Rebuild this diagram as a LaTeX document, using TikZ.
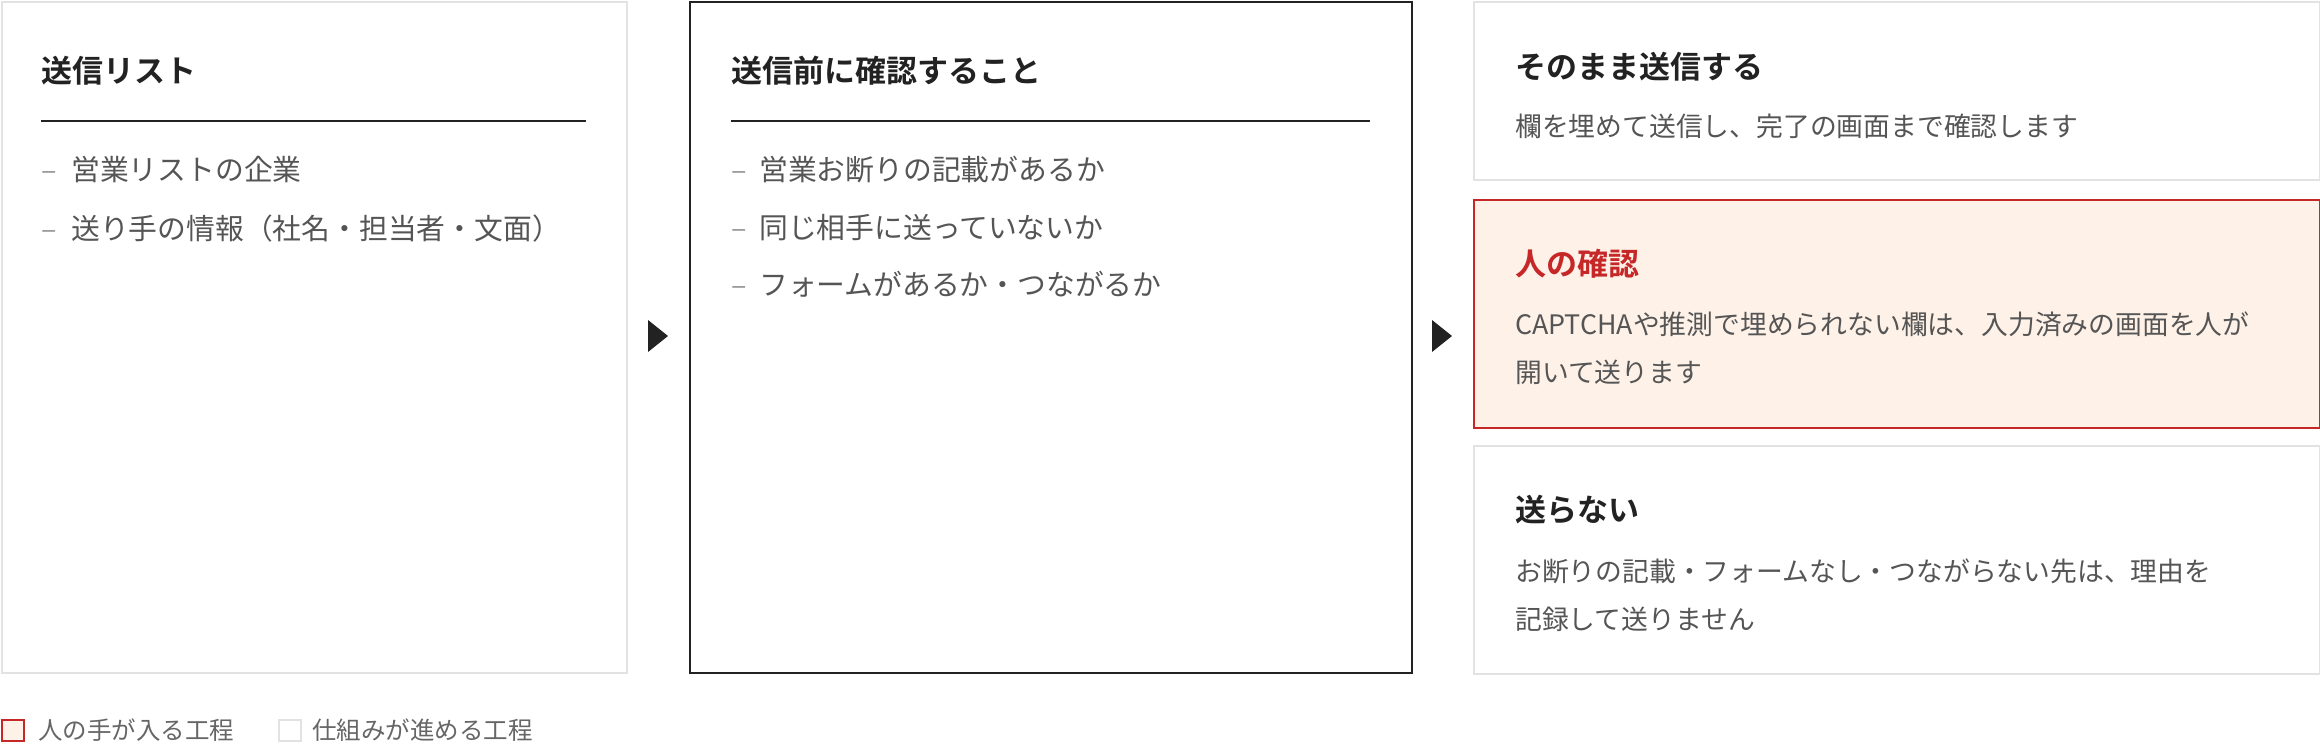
\documentclass[tikz,border=0pt]{standalone}
\usepackage{fontspec}
\setmainfont{Noto Sans CJK JP}[BoldFont={Noto Sans CJK JP Bold}]
\definecolor{boxgray}{HTML}{E2E2E2}
\definecolor{ink}{HTML}{222222}
\definecolor{body}{HTML}{555555}
\definecolor{dashc}{HTML}{9A9A9A}
\definecolor{redc}{HTML}{C62828}
\definecolor{peach}{HTML}{FEF1E8}
\definecolor{legtext}{HTML}{666666}
\tikzset{
  panel/.style={rectangle, draw=boxgray, line width=2pt, fill=white, inner sep=0pt, anchor=north west},
  mainpanel/.style={rectangle, draw=ink, line width=2pt, fill=white, inner sep=0pt, anchor=north west},
  humanpanel/.style={rectangle, draw=redc, line width=2pt, fill=peach, inner sep=0pt, anchor=north west},
  ttl/.style={anchor=base west, inner sep=0pt, text=ink, font=\fontsize{31pt}{36pt}\selectfont\bfseries},
  redttl/.style={ttl, text=redc},
  item/.style={anchor=base west, inner sep=0pt, text=body, font=\fontsize{28.8pt}{34pt}\selectfont},
  dashmark/.style={anchor=base west, inner sep=0pt, text=dashc, font=\fontsize{28.8pt}{34pt}\selectfont},
  desc/.style={anchor=base west, inner sep=0pt, text=body, font=\fontsize{26.8pt}{33pt}\selectfont},
  legtxt/.style={anchor=base west, inner sep=0pt, text=legtext, font=\fontsize{24.5pt}{28pt}\selectfont},
  rulel/.style={draw=ink, line width=2pt},
  tri/.style={fill=ink}
}
\begin{document}
\begin{tikzpicture}[x=1pt,y=-1pt]
\useasboundingbox (0,0) rectangle (2320,754);
% panels
\node[panel, minimum width=625pt, minimum height=671pt] (list) at (1,1) {};
\node[mainpanel, minimum width=722pt, minimum height=671pt] (check) at (689,1) {};
\node[panel, minimum width=846pt, minimum height=178pt] (send) at (1473,1) {};
\node[humanpanel, minimum width=846pt, minimum height=228pt] (human) at (1473,199) {};
\node[panel, minimum width=846pt, minimum height=228pt] (nosend) at (1473,445) {};
% panel 1
\node[ttl] (t1) at (41,83) {送信リスト};
\draw[rulel] (41,121) -- (586,121);
\node[dashmark] (d11) at (41,181) {–};
\node[item] (i11) at (71,181) {営業リストの企業};
\node[dashmark] (d12) at (41,239) {–};
\node[item] (i12) at (71,239) {送り手の情報（社名・担当者・文面）};
% panel 2
\node[ttl] (t2) at (731,83) {送信前に確認すること};
\draw[rulel] (731,121) -- (1370,121);
\node[dashmark] (d21) at (731,181) {–};
\node[item] (i21) at (759,181) {営業お断りの記載があるか};
\node[dashmark] (d22) at (731,238) {–};
\node[item] (i22) at (759,238) {同じ相手に送っていないか};
\node[dashmark] (d23) at (731,295) {–};
\node[item] (i23) at (759,295) {フォームがあるか・つながるか};
% panel 3a
\node[ttl] (t3) at (1515,79) {そのまま送信する};
\node[desc] (s3) at (1515,137) {欄を埋めて送信し、完了の画面まで確認します};
% panel 3b
\node[redttl] (t4) at (1515,275) {人の確認};
\node[desc] (s4a) at (1515,334) {CAPTCHAや推測で埋められない欄は、入力済みの画面を人が};
\node[desc] (s4b) at (1515,382) {開いて送ります};
% panel 3c
\node[ttl] (t5) at (1515,521) {送らない};
\node[desc] (s5a) at (1515,581) {お断りの記載・フォームなし・つながらない先は、理由を};
\node[desc] (s5b) at (1515,629) {記録して送りません};
% arrows
\coordinate (a1) at (658,336);
\coordinate (a2) at (1442,336);
\fill[tri] ([xshift=-10pt,yshift=16pt]a1) -- ([xshift=10pt]a1) -- ([xshift=-10pt,yshift=-16pt]a1) -- cycle;
\fill[tri] ([xshift=-10pt,yshift=16pt]a2) -- ([xshift=10pt]a2) -- ([xshift=-10pt,yshift=-16pt]a2) -- cycle;
% legend
\node[humanpanel, minimum width=22pt, minimum height=21pt] (lg1) at (1,719) {};
\node[legtxt] (lt1) at (38,739) {人の手が入る工程};
\node[panel, minimum width=22pt, minimum height=21pt] (lg2) at (278,719) {};
\node[legtxt] (lt2) at (312,739) {仕組みが進める工程};
\end{tikzpicture}
\end{document}
